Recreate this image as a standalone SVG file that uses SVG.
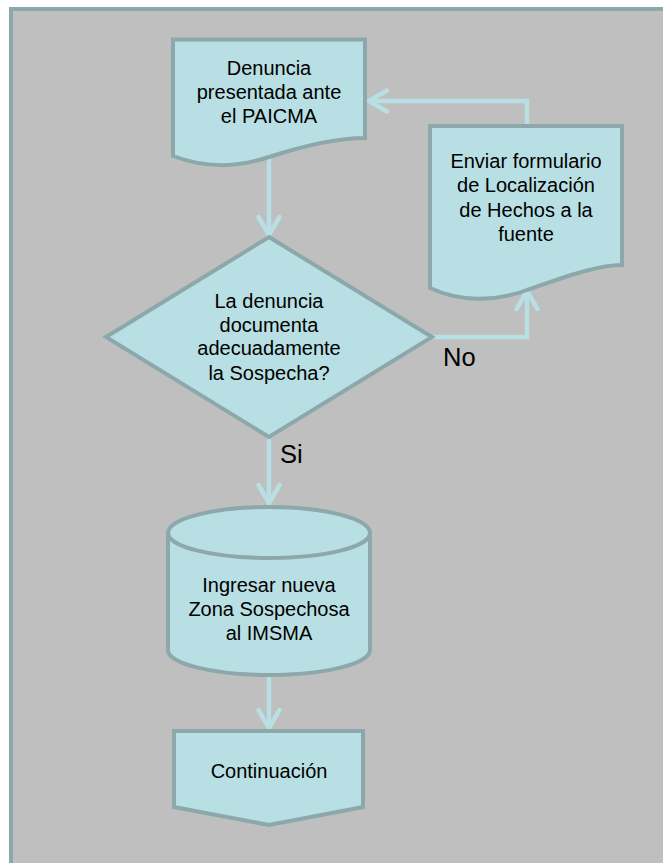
<svg xmlns="http://www.w3.org/2000/svg" width="663" height="863" viewBox="0 0 663 863">
<style>
.node{fill:#b8dfe3;stroke:#8ca8aa;stroke-width:4;stroke-linejoin:miter}
.conn{fill:none;stroke:#b8dfe3;stroke-width:4.5;stroke-linejoin:miter}
.t{font-family:"Liberation Sans",Arial,sans-serif;font-size:20px;fill:#000;text-anchor:middle}
.lbl{font-family:"Liberation Sans",Arial,sans-serif;font-size:25.5px;fill:#000}
</style>
<defs>
<marker id="arr" markerUnits="userSpaceOnUse" markerWidth="40" markerHeight="40" refX="0" refY="0" viewBox="-25 -20 40 40" orient="auto" overflow="visible">
<path d="M-18,-10.5 L0,0 L-18,10.5" fill="none" stroke="#b8dfe3" stroke-width="4.5" stroke-linecap="round" stroke-linejoin="round"/>
</marker>
</defs>
<rect x="0" y="0" width="663" height="863" fill="#ffffff"/>
<rect x="11" y="9" width="700" height="900" fill="#bfbfbf" stroke="#8ca8aa" stroke-width="4"/>
<g id="connectors">
<path class="conn" d="M269,158 V235" marker-end="url(#arr)"/>
<path class="conn" d="M432,337 H527 V291" marker-end="url(#arr)"/>
<path class="conn" d="M527,124 V101 H369" marker-end="url(#arr)"/>
<path class="conn" d="M269,439 V503" marker-end="url(#arr)"/>
<path class="conn" d="M269,677 V728" marker-end="url(#arr)"/>
</g>
<g id="n_denuncia">
<path class="node" d="M173,39.5 H365 V138 C340,138 303,146 269,157 C235,168 205,168 173,156 Z"/>
<text class="t" x="269" y="75">Denuncia</text>
<text class="t" x="269" y="99">presentada ante</text>
<text class="t" x="269" y="123">el PAICMA</text>
</g>
<g id="n_enviar">
<path class="node" d="M430,126 H622 V265 C595,265 560,279 527,290 C495,302 460,302 430,288 Z"/>
<text class="t" x="526" y="168">Enviar formulario</text>
<text class="t" x="526" y="192">de Localización</text>
<text class="t" x="526" y="217">de Hechos a la</text>
<text class="t" x="526" y="241">fuente</text>
</g>
<g id="n_decision">
<path class="node" d="M269,237 L432,337 L269,437 L106,337 Z"/>
<text class="t" x="269" y="308">La denuncia</text>
<text class="t" x="269" y="332">documenta</text>
<text class="t" x="269" y="355">adecuadamente</text>
<text class="t" x="269" y="380">la Sospecha?</text>
</g>
<g id="n_ingresar">
<path class="node" d="M168,533 A101,26 0 0 1 370,533 V650 A101,25 0 0 1 168,650 Z"/>
<path class="node" fill="none" style="fill:none" d="M168,533 A101,25 0 0 0 370,533"/>
<text class="t" x="269" y="592">Ingresar nueva</text>
<text class="t" x="269" y="616">Zona Sospechosa</text>
<text class="t" x="269" y="640">al IMSMA</text>
</g>
<g id="n_continuacion">
<path class="node" d="M174,731 H363 V807 L269,825 L174,807 Z"/>
<text class="t" x="269" y="778">Continuación</text>
</g>
<g id="labels">
<text class="lbl" x="443" y="366">No</text>
<text class="lbl" x="280" y="463">Si</text>
</g>
</svg>
